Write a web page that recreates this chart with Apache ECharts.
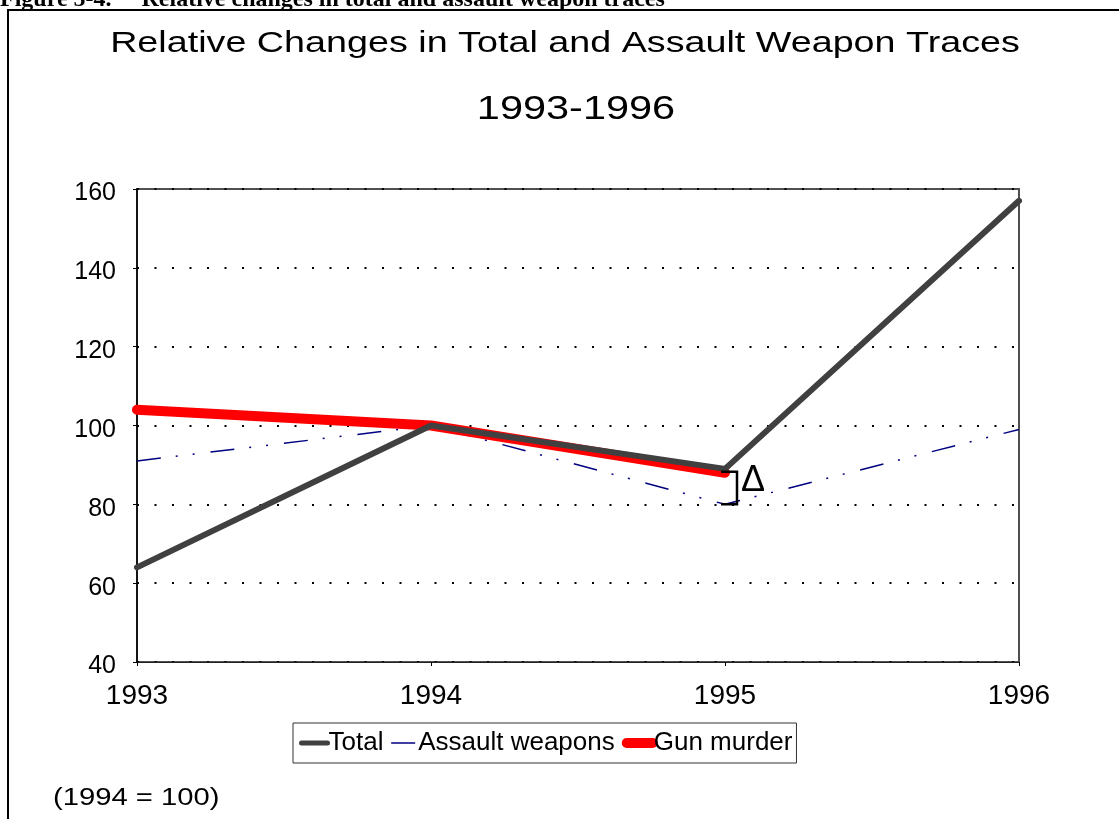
<!DOCTYPE html>
<html>
<head>
<meta charset="utf-8">
<script src="https://cdn.jsdelivr.net/npm/echarts@6/dist/echarts.min.js"></script>
<style>
  html, body { margin: 0; padding: 0; background: #fff; }
  #chart { width: 1119px; height: 819px; }
</style>
</head>
<body>
<div id="chart"></div>
<script>
// data (1994 = 100)
let years = [1993, 1994, 1995, 1996]
let total = [64, 100, 89, 157]
let assault = [91, 100, 80, 99]
let gunMurder = [104, 100, 88]

let yTicks = [40, 60, 80, 100, 120, 140, 160]

let chart = echarts.init(document.getElementById("chart"))

function pairs(vals){
    return vals.map((v, i) => [years[i], v])
}

let font = "Liberation Sans, Arial, sans-serif"

let option = {
    animation: false,
    backgroundColor: "#fff",
    grid: {
        left: 137, top: 189, width: 882, height: 473,
        show: true, borderColor: "#505050", borderWidth: 2
    },
    legend: {
        data: [
            { name: "Total", lineStyle: { width: 5 } },
            { name: "Assault weapons", lineStyle: { width: 1.5 } },
            { name: "Gun murder", lineStyle: { width: 10, cap: "round" } }
        ],
        left: 293, top: 723,
        padding: [7, 4, 7, 6],
        itemGap: 7,
        itemWidth: 26,
        itemHeight: 14,
        itemStyle: { opacity: 0 },
        borderColor: "#333", borderWidth: 1,
        textStyle: { fontFamily: font, fontSize: 26, color: "#000", padding: [0, 0, 0, -4] }
    },
    xAxis: {
        type: "value",
        min: 1993, max: 1996, interval: 1,
        axisLine: { lineStyle: { color: "#222", width: 1 } },
        axisTick: { show: true, length: 4, lineStyle: { color: "#000" } },
        splitLine: { show: false },
        axisLabel: {
            fontFamily: font, fontSize: 28, color: "#000", margin: 20,
            formatter: v => String(v)
        }
    },
    yAxis: {
        type: "value",
        min: yTicks[0], max: yTicks[yTicks.length - 1], interval: 20,
        axisLine: { show: true, lineStyle: { color: "#000", width: 1.5 } },
        axisTick: { show: true, length: 4, lineStyle: { color: "#000" } },
        splitLine: { show: true, lineStyle: { color: "#000", width: 2, type: [2, 15.5] } },
        axisLabel: {
            margin: 21,
            formatter: v => "{t|" + v + "}",
            rich: { t: { fontFamily: font, fontSize: 25, color: "#000", padding: [9, 0, 0, 0] } }
        }
    },
    series: [
        {
            name: "Total",
            type: "line",
            data: pairs(total),
            symbol: "none",
            z: 4,
            itemStyle: { color: "#404040" },
            lineStyle: { color: "#404040", width: 6, cap: "round", join: "round" }
        },
        {
            name: "Assault weapons",
            type: "line",
            data: pairs(assault),
            symbol: "none",
            z: 2,
            itemStyle: { color: "#000080" },
            lineStyle: { color: "#000080", width: 1.5, type: [24, 15, 2, 15, 2, 16] }
        },
        {
            name: "Gun murder",
            type: "line",
            data: pairs(gunMurder),
            symbol: "none",
            z: 3,
            itemStyle: { color: "#ff0000" },
            lineStyle: { color: "#ff0000", width: 10, cap: "round", join: "round" }
        }
    ]
}

chart.setOption(option)

// bracket showing the 1995 gap, drawn from the data positions
let pTop = chart.convertToPixel({ gridIndex: 0 }, [years[2], gunMurder[2]])
let pBot = chart.convertToPixel({ gridIndex: 0 }, [years[2], assault[2]])
let bx = pTop[0] + 12

chart.setOption({
    graphic: [
        {
            type: "rect",
            shape: { x: 8, y: 10, width: 1140, height: 900 },
            style: { fill: null, stroke: "#000", lineWidth: 2 },
            silent: true
        },
        {
            type: "text",
            x: 0, y: -12,
            style: {
                text: "Figure 5-4.     Relative changes in total and assault weapon traces",
                font: "bold 24px 'Liberation Serif', 'Times New Roman', serif",
                fill: "#000", textVerticalAlign: "top"
            }
        },
        {
            type: "text",
            x: 565, y: 29, scaleX: 1.257,
            style: {
                text: "Relative Changes in Total and Assault Weapon Traces",
                font: "30px 'Liberation Sans', Arial, sans-serif",
                fill: "#000", textAlign: "center", textVerticalAlign: "top"
            }
        },
        {
            type: "text",
            x: 576, y: 93, scaleX: 1.22,
            style: {
                text: "1993-1996",
                font: "34px 'Liberation Sans', Arial, sans-serif",
                fill: "#000", textAlign: "center", textVerticalAlign: "top"
            }
        },
        {
            type: "polyline",
            shape: { points: [[pTop[0] - 4, pTop[1] - 1], [bx, pTop[1] - 1], [bx, pBot[1]], [pTop[0] - 4, pBot[1]]] },
            style: { stroke: "#000", lineWidth: 2.5, fill: null },
            z: 10
        },
        {
            type: "text",
            x: bx + 4, y: pTop[1] - 10,
            style: {
                text: "\u0394", font: "36px 'Liberation Sans', Arial, sans-serif",
                fill: "#000", textVerticalAlign: "top"
            },
            z: 10
        },
        {
            type: "text",
            x: 53, y: 787, scaleX: 1.27,
            style: { text: "(1994 = 100)", font: "23px 'Liberation Sans', Arial, sans-serif", fill: "#000" }
        }
    ]
})
</script>
</body>
</html>
